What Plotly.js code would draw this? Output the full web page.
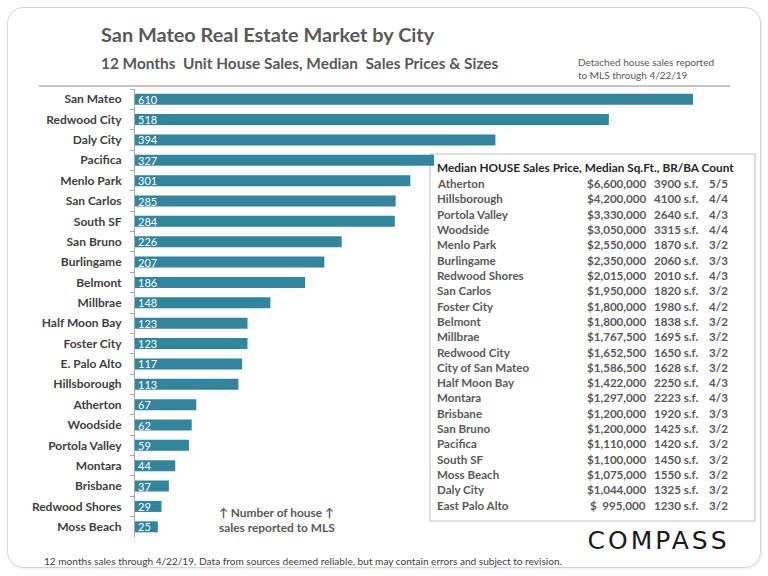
<!DOCTYPE html>
<html>
<head>
<meta charset="utf-8">
<script src="https://cdn.plot.ly/plotly-3.0.1.min.js"></script>
<style>
  html, body { margin: 0; padding: 0; background: #ffffff; }
  #wrap { position: relative; width: 768px; height: 576px; }
  #chart { position: absolute; left: 0; top: 0; width: 768px; height: 576px; }
  #frame { position: absolute; left: 7px; top: 7px; width: 752px; height: 559px;
           border: 1px solid #d4d4d4; border-radius: 16px; pointer-events: none;
           box-shadow: 1px 1px 2px rgba(0,0,0,0.08); }
</style>
</head>
<body>
<div id="wrap">
  <div id="chart"></div>
  <div id="frame"></div>
</div>
<script>
// ---- Bar chart data: 12-month unit house sales ----
const cities = ["San Mateo", "Redwood City", "Daly City", "Pacifica", "Menlo Park", "San Carlos",
  "South SF", "San Bruno", "Burlingame", "Belmont", "Millbrae", "Half Moon Bay", "Foster City",
  "E. Palo Alto", "Hillsborough", "Atherton", "Woodside", "Portola Valley", "Montara",
  "Brisbane", "Redwood Shores", "Moss Beach"];
const sales = [610, 518, 394, 327, 301, 285, 284, 226, 207, 186, 148, 123, 123, 117, 113,
  67, 62, 59, 44, 37, 29, 25];

// ---- Table data: median house sales price, sq.ft., BR/BA ----
const tableCities = ["Atherton", "Hillsborough", "Portola Valley", "Woodside", "Menlo Park",
  "Burlingame", "Redwood Shores", "San Carlos", "Foster City", "Belmont", "Millbrae",
  "Redwood City", "City of San Mateo", "Half Moon Bay", "Montara", "Brisbane", "San Bruno",
  "Pacifica", "South SF", "Moss Beach", "Daly City", "East Palo Alto"];
const tablePrices = [6600000, 4200000, 3330000, 3050000, 2550000, 2350000, 2015000, 1950000,
  1800000, 1800000, 1767500, 1652500, 1586500, 1422000, 1297000, 1200000, 1200000, 1110000,
  1100000, 1075000, 1044000, 995000];
const tableSqft = [3900, 4100, 2640, 3315, 1870, 2060, 2010, 1820, 1980, 1838, 1695, 1650,
  1628, 2250, 2223, 1920, 1425, 1420, 1450, 1550, 1325, 1230];
const tableBrBa = ["5/5", "4/4", "4/3", "4/4", "3/2", "3/3", "4/3", "3/2", "4/2", "3/2", "3/2",
  "3/2", "3/2", "4/3", "4/3", "3/3", "3/2", "3/2", "3/2", "3/2", "3/2", "3/2"];
const tableHeader = "Median HOUSE Sales Price, Median Sq.Ft., BR/BA Count";

// ---- Texts ----
const titleText = "San Mateo Real Estate Market by City";
const subtitleText = "12 Months  Unit House Sales, Median  Sales Prices & Sizes";
const noteText = "Detached house sales reported<br>to MLS through 4/22/19";
const axisNote = "↑ Number of house ↑<br>sales reported to MLS";
const footText = "12 months sales through 4/22/19. Data from sources deemed reliable, but may contain errors and subject to revision.";
const logoText = "COMPASS";

// ---- Layout geometry (pixels) ----
const L = 135, T = 89, W = 605, H = 448;
const R = 768 - L - W, B = 576 - T - H;
const xPerUnit = (693 - 135) / 610;
const xMax = W / xPerUnit;
const px = p => (p - L) / W;
const py = p => (T + H - p) / H;

const FONT = "Lato, 'Open Sans', sans-serif";
const GRAY = "#595959";

function fmtPrice(v) {
  const s = v.toLocaleString("en-US");
  return v < 1000000 ? "$\u00a0\u00a0" + s : "$" + s;
}

const annotations = [];
function addText(text, x, y, opts) {
  annotations.push(Object.assign({
    text: text, xref: "paper", yref: "paper", x: px(x), y: py(y),
    showarrow: false, xanchor: "left", yanchor: "middle",
    font: { family: FONT, size: 11, color: GRAY }
  }, opts || {}));
}

addText(titleText, 99, 34, { font: { family: FONT, size: 19.9, color: GRAY, weight: "bold" } });
addText(subtitleText, 99, 63, { font: { family: FONT, size: 15.4, color: GRAY, weight: "bold" } });
addText(noteText, 576, 69, { align: "left", font: { family: FONT, size: 10, color: GRAY } });
addText(axisNote, 217, 520, { align: "left", font: { family: FONT, size: 11.9, color: GRAY, weight: "bold" } });
addText(footText, 42, 561, { font: { family: FONT, size: 10.1, color: "#404040" } });
addText(logoText, 596, 540, { font: { family: "'DejaVu Sans', sans-serif", size: 25, color: "#1a1a1a" } });

// table header and rows
addText(tableHeader, 435, 167, { font: { family: FONT, size: 11.8, color: "#262626", weight: "bold" } });
const rowFont = { family: FONT, size: 11.6, color: GRAY, weight: "bold" };
for (let i = 0; i < tableCities.length; i++) {
  const y = 183.5 + i * 15.32;
  addText(tableCities[i], 435, y, { font: rowFont });
  addText(fmtPrice(tablePrices[i]), 648, y, { xanchor: "right", font: rowFont });
  addText(tableSqft[i] + " s.f.", 700, y, { xanchor: "right", font: rowFont });
  addText(tableBrBa[i], 730, y, { xanchor: "right", font: rowFont });
}

const shapes = [
  { type: "line", xref: "paper", yref: "paper", x0: px(39), x1: px(730), y0: py(86), y1: py(86),
    line: { color: "#8c8c8c", width: 1 } },
  { type: "rect", xref: "paper", yref: "paper", layer: "below",
    x0: px(430), x1: px(755), y0: py(154), y1: py(521),
    fillcolor: "#ffffff", line: { color: "#bfbfbf", width: 1 } }
];

const trace = {
  type: "bar", orientation: "h",
  x: sales, y: cities,
  marker: { color: "#31859C" },
  text: sales.map(String),
  textposition: "inside", insidetextanchor: "start", textangle: 0,
  textfont: { family: FONT, size: 11, color: "#ffffff" },
  hoverinfo: "none", cliponaxis: false
};

const layout = {
  width: 768, height: 576,
  margin: { l: L, r: R, t: T, b: B, pad: 0 },
  paper_bgcolor: "#ffffff", plot_bgcolor: "rgba(0,0,0,0)",
  showlegend: false, bargap: 0.46,
  uniformtext: { mode: "show", minsize: 11 },
  xaxis: { range: [0, xMax], visible: false, fixedrange: true },
  yaxis: {
    type: "category", autorange: false, range: [cities.length - 0.5, -0.5],
    showline: true, linecolor: "#a6a6a6", linewidth: 1,
    ticks: "outside", tickson: "boundaries", ticklen: 4, tickcolor: "#a6a6a6",
    tickfont: { family: FONT, size: 12, color: "#404040", weight: "bold" },
    ticklabelstandoff: 10, showgrid: false, zeroline: false, fixedrange: true
  },
  shapes: shapes,
  annotations: annotations
};

Plotly.newPlot("chart", [trace], layout, { displayModeBar: false, staticPlot: true }).then(function (gd) {
  // widen the logo's letter spacing, as in the brand mark
  gd.querySelectorAll(".annotation-text").forEach(function (t) {
    if (t.textContent === logoText) t.style.letterSpacing = "3px";
  });
});
</script>
</body>
</html>
